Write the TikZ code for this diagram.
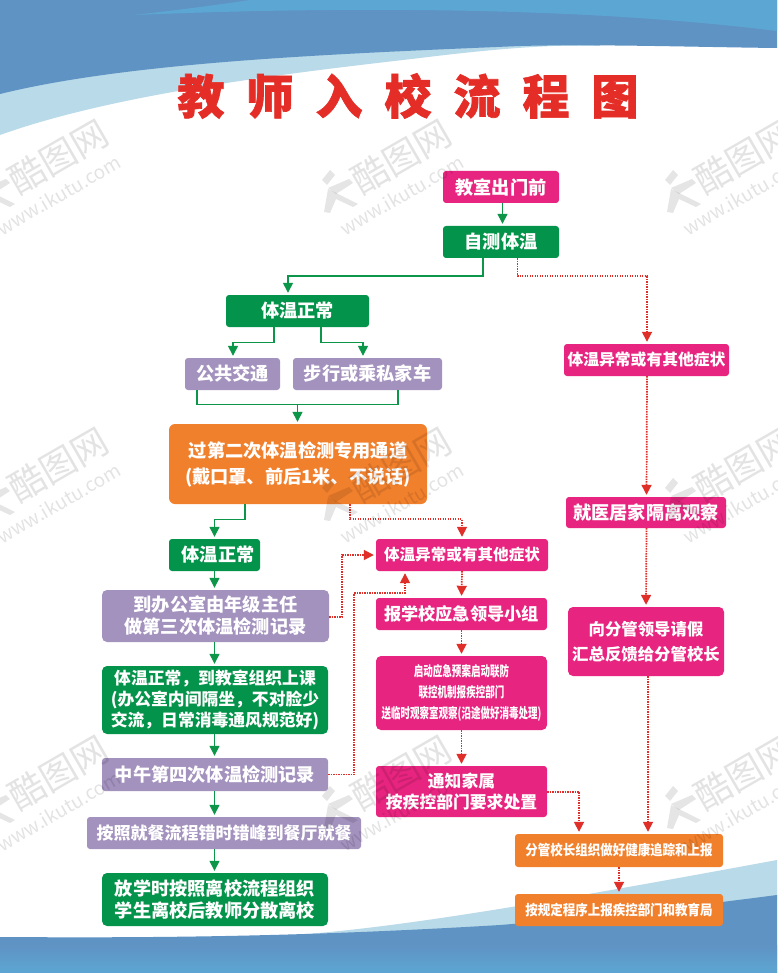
\documentclass[tikz,border=0pt]{standalone}
\usepackage{fontspec}
\setmainfont{Noto Sans CJK SC}
\newfontfamily\narrowcjk{Noto Sans CJK SC}[FakeStretch=0.68]
\newfontfamily\semicjk{Noto Sans CJK SC}[FakeStretch=0.88]
\newfontfamily\titlecjk{Noto Sans CJK SC}[BoldFeatures={FakeBold=1.4}]
\usetikzlibrary{arrows.meta,calc}
\definecolor{pinkbox}{HTML}{E7247F}
\definecolor{greenbox}{HTML}{04934A}
\definecolor{purplebox}{HTML}{A391BE}
\definecolor{orangebox}{HTML}{F1802C}
\definecolor{titlered}{HTML}{E52D27}
\definecolor{dottedred}{HTML}{DF2F28}
\definecolor{greenline}{HTML}{0B9649}
\definecolor{bluedark}{HTML}{5F93C4}
\definecolor{bluesky}{HTML}{5CA6D3}
\definecolor{bluepale}{HTML}{B9DAE8}
\newcommand\fs[2]{\fontsize{#1}{#2}\selectfont}
\newcommand\tg{\hspace{22pt}}
\newcommand\bx[7]{%
  \pgfmathsetmacro\bxw{#5-#3}\pgfmathsetmacro\bxh{#6-#4}%
  \pgfmathsetmacro\bxa{(#3+#5)/2}\pgfmathsetmacro\bxb{(#4+#6)/2}%
  \node[#1,minimum width=\bxw pt,minimum height=\bxh pt] (#2) at (\bxa,\bxb) {#7};}
\newcommand\wmark[2]{%
  \begin{scope}[shift={(#1,#2)}]
    \fill[wmk] (-76,23) -- (-68,13) -- (-63,18) -- (-71,28) -- cycle;
    \fill[wmk] (-74,55) -- (-70,32) -- (-40,47) -- (-45,50) -- (-62,42) -- (-68,56) -- cycle;
    \fill[wmk] (-70,31) -- (-49,22) -- (-45,26) -- (-62,37) -- cycle;
    \node[wmktext,font=\fs{36}{36},rotate=30] (wa#1#2) at (3,0) {酷图网};
    \node[wmktext,font=\fs{19}{19},rotate=30] (wb#1#2) at (4,38) {www.ikutu.com};
  \end{scope}}
\tikzset{
  x=1pt,y=-1pt,
  boxbase/.style={rounded corners=3pt,inner sep=0pt,align=center,text=white,font=\bfseries\fs{18.2}{22}},
  pinkb/.style={boxbase,fill=pinkbox},
  greenb/.style={boxbase,fill=greenbox},
  purpleb/.style={boxbase,fill=purplebox},
  orangeb/.style={boxbase,fill=orangebox},
  gl/.style={draw=greenline,line width=1.4pt,-{Triangle[length=10pt,width=10pt]},shorten >=2pt},
  glplain/.style={draw=greenline,line width=1.4pt},
  rd/.style={draw=dottedred,line width=1.7pt,dash pattern=on 1.4pt off 1.1pt,-{Triangle[length=10pt,width=10pt]},shorten >=2pt},
  wmk/.style={fill=black,opacity=0.10},
  wmktext/.style={text=black,text opacity=0.11,inner sep=0pt},
}
\begin{document}
\begin{tikzpicture}
\useasboundingbox (0,0) rectangle (777,973);
% background
\fill[white] (0,0) rectangle (777,973);
\fill[bluepale] (0,135) .. controls (120,92) and (300,72) .. (420,58)
  .. controls (500,48) and (560,44) .. (600,46) -- (600,30) -- (0,60) -- cycle;
\fill[bluedark] (0,0) -- (777,0) -- (777,48) .. controls (690,47) and (600,44) .. (520,46)
  .. controls (330,54) and (130,62) .. (0,94) -- cycle;
\fill[bluesky] (134,15) .. controls (300,8) and (560,4) .. (777,31) -- (777,0) -- (250,0)
  .. controls (210,6) and (170,11) .. (134,15) -- cycle;
\fill[bluepale] (293,935) .. controls (400,928) and (560,900) .. (777,860) -- (777,900) -- (500,935) -- cycle;
\fill[bluedark] (0,937)
  .. controls (150,938) and (300,937) .. (500,925)
  .. controls (600,917) and (700,905) .. (777,895) -- (777,973) -- (0,973) -- cycle;
\shade[top color=bluedark,bottom color=bluesky] (0,945) rectangle (777,973);
% title
\node[text=titlered,font=\titlecjk\bfseries\fs{47}{47},inner sep=0pt] (title) at (408,96)
  {教\tg 师\tg 入\tg 校\tg 流\tg 程\tg 图};
% left column
\bx{pinkb}{a1}{443}{171}{559}{203}{教室出门前}
\bx{greenb}{a2}{443}{226}{559}{258}{自测体温}
\bx{greenb}{b1}{226}{295}{369}{327}{体温正常}
\bx{purpleb}{b2}{185}{358}{280}{390}{公共交通}
\bx{purpleb}{b3}{293}{358}{442}{390}{步行或乘私家车}
\bx{orangeb,rounded corners=6pt,font=\bfseries\fs{18.2}{26}}{b4}{169}{424}{427}{504}{过第二次体温检测专用通道\\(戴口罩、前后1米、不说话)}
\bx{greenb}{b5}{169}{539}{260}{571}{\hspace*{7pt}体温正常}
\bx{purpleb,rounded corners=5pt}{b6}{102}{590}{329}{642}{到办公室由年级主任\\做第三次体温检测记录}
\bx{greenb,rounded corners=5pt,font=\bfseries\fs{16.8}{21}}{b7}{102}{666}{328}{734}{体温正常，到教室组织上课\\(办公室内间隔坐，不对脸少\\交流，日常消毒通风规范好)}
\bx{purpleb}{b8}{102}{758}{328}{791}{中午第四次体温检测记录}
\bx{purpleb,font=\bfseries\fs{17}{21}}{b9}{87}{817}{361}{849}{按照就餐流程错时错峰到餐厅就餐}
\bx{greenb,rounded corners=5pt,font=\bfseries\fs{18.2}{21.5}}{b10}{102}{873}{328}{926}{放学时按照离校流程组织\\学生离校后教师分散离校}
% middle column
\bx{pinkb,font=\bfseries\fs{15.6}{20}}{c1}{376}{539}{548}{571}{体温异常或有其他症状}
\bx{pinkb,font=\bfseries\fs{17.2}{20}}{c2}{376}{598}{547}{630}{报学校应急领导小组}
\bx{pinkb,rounded corners=5pt,font=\narrowcjk\bfseries\fs{14}{21}}{c3}{376}{656}{547}{730}{启动应急预案启动联防\\联控机制报疾控部门\\送临时观察室观察(沿途做好消毒处理)}
\bx{pinkb,font=\bfseries\fs{16.8}{20.7}}{c4}{376}{766}{547}{817}{通知家属\\按疾控部门要求处置}
% right column
\bx{pinkb,font=\bfseries\fs{15.8}{20}}{d1}{564}{344}{729}{376}{体温异常或有其他症状}
\bx{pinkb,font=\bfseries\fs{18.2}{20}}{d2}{566}{497}{726}{528}{就医居家隔离观察}
\bx{pinkb,rounded corners=5pt,font=\bfseries\fs{16.4}{25}}{d3}{568}{607}{724}{676}{向分管领导请假\\汇总反馈给分管校长}
\bx{orangeb,font=\semicjk\bfseries\fs{14.2}{18}}{e1}{515}{834}{723}{867}{分管校长组织做好健康追踪和上报}
\bx{orangeb,font=\semicjk\bfseries\fs{14.2}{18}}{e2}{515}{894}{723}{926}{按规定程序上报疾控部门和教育局}
% green connectors
\path[gl] ([xshift=1.5pt]a1.south) -- ([xshift=1.5pt]a2.north);
\path[gl] ([xshift=-18pt]a2.south) -- ++(0,18) -| ([xshift=-9.5pt]b1.north);
\path[gl] ([xshift=-23.5pt]b1.south) -- ++(0,15) -| ([xshift=.5pt]b2.north);
\path[gl] ([xshift=23.5pt]b1.south) -- ++(0,15) -| ([xshift=-4.5pt]b3.north);
\coordinate (mj) at ($(b2.south)+(-35.5,14)$);
\coordinate (mk) at ($(b3.south)+(30.5,14)$);
\path[glplain] ([xshift=-35.5pt]b2.south) -- (mj) -- (mk) -- ([xshift=30.5pt]b3.south);
\coordinate (mm) at ($(mj)!0.5!(mk)$);
\path[gl] (mm) -- (mm |- b4.north);
\path[gl] ([xshift=-53pt]b4.south) -- ++(0,15) -| (b5.north);
\path[gl] (b5.south) -- (b5.south |- b6.north);
\path[gl] (b5.south |- b6.south) -- (b5.south |- b7.north);
\path[gl] (b5.south |- b7.south) -- (b5.south |- b8.north);
\path[gl] (b5.south |- b8.south) -- (b5.south |- b9.north);
\path[gl] (b5.south |- b9.south) -- (b5.south |- b10.north);
% red dotted connectors
\path[rd] ([xshift=16.5pt]a2.south) -- ++(0,18) -| ([xshift=.5pt]d1.north);
\path[rd] ([xshift=.5pt]d1.south) -- ([xshift=.5pt]d2.north);
\path[rd] ([xshift=.5pt]d2.south) -- (d3.north);
\path[rd] ([xshift=2pt]d3.south) -- ([xshift=29pt]e1.north);
\path[rd] (e1.south) -- (e2.north);
\path[rd] ([xshift=52pt]b4.south) -- ++(0,15) -| (c1.north);
\path[rd] (c1.south) -- (c2.north);
\path[rd] (c2.south) -- (c3.north);
\path[rd] (c3.south) -- (c4.north);
\path[rd] ([yshift=-1pt]b6.east) -- ++(13,0) |- (c1.west);
\path[rd] (b8.east) -- ++(26,0) |- ($(c1.south)+(-57,22)$) -- ([xshift=-57pt]c1.south);
\path[rd] ([yshift=-.5pt]c4.east) -- ++(32,0) -| ([xshift=-40pt]e1.north);
% watermarks
\wmark{55}{157}\wmark{398}{157}\wmark{741}{157}
\wmark{55}{465}\wmark{398}{465}\wmark{741}{465}
\wmark{55}{773}\wmark{398}{773}\wmark{741}{773}
\end{tikzpicture}
\end{document}
